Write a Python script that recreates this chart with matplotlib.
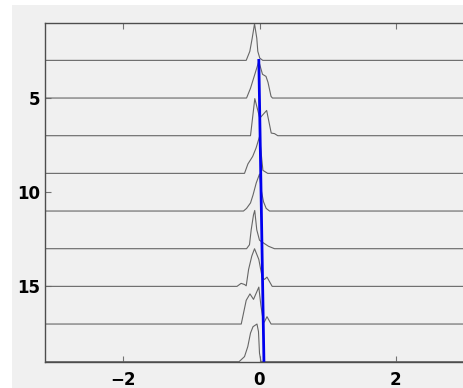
import matplotlib.pyplot as plt
from matplotlib.patches import Rectangle

# baselines of the stacked densities (y axis is reversed)
baselines = [3, 5, 7, 9, 11, 13, 15, 17, 19]

# density outlines: x positions and heights above each baseline
ridge_x = [
    [-0.195, -0.142, -0.107, -0.073, -0.040, -0.025, 0.004, 0.048],
    [-0.19, -0.132, -0.073, -0.01, 0.044, 0.095, 0.125, 0.169, 0.19],
    [-0.132, -0.069, 0.004, 0.105, 0.172, 0.22, 0.268],
    [-0.22, -0.17, -0.10, -0.05, 0.0, 0.05, 0.12],
    [-0.235, -0.19, -0.132, -0.095, -0.048, 0.0, 0.025, 0.059, 0.098, 0.147],
    [-0.19, -0.147, -0.122, -0.088, -0.07, -0.04, 0.0, 0.073, 0.132, 0.22],
    [-0.33, -0.27, -0.22, -0.195, -0.16, -0.113, -0.073, -0.01, 0.04, 0.073, 0.11, 0.186],
    [-0.268, -0.195, -0.14, -0.088, -0.01, 0.02, 0.055, 0.07, 0.11, 0.17],
    [-0.3, -0.22, -0.172, -0.132, -0.095, -0.037, -0.015, 0.0, 0.022],
]
ridge_h = [
    [0, 0.48, 1.18, 1.94, 1.18, 0.48, 0.12, 0],
    [0, 0.52, 1.21, 1.95, 1.26, 1.15, 0.83, 0.09, 0],
    [0, 1.97, 0.93, 1.34, 0.14, 0.11, 0],
    [0, 0.5, 0.9, 1.35, 1.95, 0.16, 0],
    [0, 0.14, 0.43, 0.85, 1.49, 1.96, 1.12, 0.49, 0.14, 0],
    [0, 0.21, 1.0, 1.8, 2.03, 1.0, 0.45, 0.27, 0.13, 0],
    [0, 0.16, 0.1, 0.03, 0.9, 1.61, 2.0, 1.43, 0.46, 0.37, 0.49, 0],
    [0, 1.26, 1.6, 1.31, 1.96, 1.0, 0.15, 0.1, 0.39, 0],
    [0, 0.27, 0.8, 1.52, 1.86, 2.0, 1.6, 0.45, 0],
]

# blue trend line
trend_x = [-0.01, 0.065]
trend_y = [3, 19]

xticks = [-2, 0, 2]
yticks = [5, 10, 15]

W, H = 464, 388
fig = plt.figure(figsize=(W / 100, H / 100), dpi=100, facecolor='white')
# grey window area, leaving a thin white margin at top and left
fig.patches.append(Rectangle((12 / W, 0), 1 - 12 / W, 1 - 5 / H,
                             transform=fig.transFigure, facecolor='#f0f0f0',
                             edgecolor='none', zorder=-10))

ax = fig.add_axes([44.5 / W, (H - 361.7) / H, 430 / W, 339 / H])
ax.set_facecolor('#f0f0f0')

xmin, xmax = -3.155, 3.155
for b, xs, hs in zip(baselines, ridge_x, ridge_h):
    px = [xmin - 0.1] + xs + [xmax + 0.1]
    py = [b] + [b - h for h in hs] + [b]
    ax.plot(px, py, color='0.4', lw=0.8)

ax.plot(trend_x, trend_y, color='#0000ee', lw=2)

ax.set_xlim(xmin, xmax)
ax.set_ylim(19, 1)
ax.set_xticks(xticks)
ax.set_yticks(yticks)
ax.set_xticklabels([str(t).replace('-', '\u2212') for t in xticks])
ax.tick_params(direction='in', length=4, width=0.8, color='0.45',
               top=True, right=True, labelsize=12)
ax.tick_params(axis='x', pad=7)
ax.tick_params(axis='y', pad=3)
for lab in ax.get_xticklabels() + ax.get_yticklabels():
    lab.set_fontfamily('DejaVu Sans')
    lab.set_fontweight('bold')
for s in ax.spines.values():
    s.set_color('0.3')
    s.set_linewidth(1)

fig.savefig('out.png', dpi=100, facecolor=fig.get_facecolor())
